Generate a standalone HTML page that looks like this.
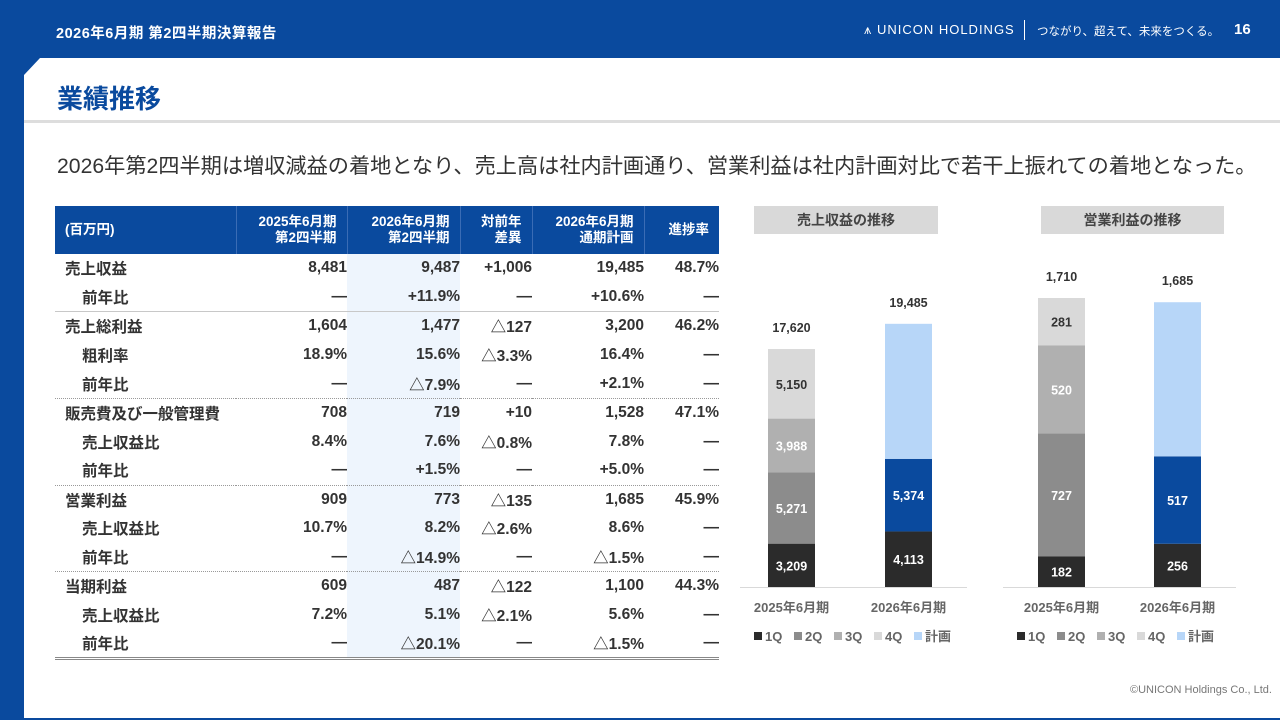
<!DOCTYPE html>
<html><head><meta charset="utf-8">
<style>
*{margin:0;padding:0;box-sizing:border-box}
body{width:1280px;height:720px;overflow:hidden;background:#0a4a9e;font-family:"Liberation Sans","Noto Sans CJK JP",sans-serif;position:relative}
.abs{position:absolute}
#panel{left:24px;top:58px;width:1256px;height:660px;background:#fff;clip-path:polygon(16px 0,100% 0,100% 100%,0 100%,0 17px)}
table{border-collapse:collapse;position:absolute;left:55px;top:206px;width:664px;font-weight:bold;font-size:15.5px;color:#333}
th{background:#0a4a9e;color:#fff;height:48px;font-size:13.5px;line-height:16px;text-align:right;padding-right:10px;border-left:1px solid #3a6cb5}
th:first-child{text-align:left;padding-left:10px;border-left:none}
td{height:28.9px;text-align:right;padding-right:0;white-space:nowrap}
td:first-child{text-align:left;padding-left:10px}
td.s{padding-left:27px!important}
td.h{background:#eef5fd}
tr.solid td{border-top:1px solid #c8c8c8}
tr.dot td{border-top:1px dotted #999}
tr.last td{border-bottom:3px double #888}
</style></head><body>
<div class="abs" style="left:56px;top:22px;color:#fff;font-size:14.5px;font-weight:bold;letter-spacing:0.5px">2026年6月期 第2四半期決算報告</div>
<div class="abs" style="left:864px;top:22px;color:#fff;font-size:13px;letter-spacing:1px">⩚ UNICON HOLDINGS</div>
<div class="abs" style="left:1024px;top:20px;width:1px;height:20px;background:#fff"></div>
<div class="abs" style="left:1037px;top:23px;color:#fff;font-size:11.5px">つながり、超えて、未来をつくる。</div>
<div class="abs" style="left:1234px;top:21px;color:#fff;font-size:15px;font-weight:bold">16</div>
<div class="abs" id="panel"></div>
<div class="abs" style="left:57px;top:79px;color:#0a4a9e;font-size:26px;font-weight:bold">業績推移</div>
<div class="abs" style="left:24px;top:120px;width:1256px;height:3px;background:#ddd"></div>
<div class="abs" style="left:57px;top:149px;color:#333;font-size:21.2px;white-space:nowrap">2026年第2四半期は増収減益の着地となり、売上高は社内計画通り、営業利益は社内計画対比で若干上振れての着地となった。</div>

<table>
<colgroup><col style="width:181px"><col style="width:111px"><col style="width:113px"><col style="width:72px"><col style="width:112px"><col style="width:75px"></colgroup>
<tr><th>(百万円)</th><th>2025年6月期<br>第2四半期</th><th>2026年6月期<br>第2四半期</th><th>対前年<br>差異</th><th>2026年6月期<br>通期計画</th><th>進捗率</th></tr>
<tr><td>売上収益</td><td>8,481</td><td class="h">9,487</td><td>+1,006</td><td>19,485</td><td>48.7%</td></tr>
<tr><td class="s">前年比</td><td>—</td><td class="h">+11.9%</td><td>—</td><td>+10.6%</td><td>—</td></tr>
<tr class="solid"><td>売上総利益</td><td>1,604</td><td class="h">1,477</td><td>△127</td><td>3,200</td><td>46.2%</td></tr>
<tr><td class="s">粗利率</td><td>18.9%</td><td class="h">15.6%</td><td>△3.3%</td><td>16.4%</td><td>—</td></tr>
<tr><td class="s">前年比</td><td>—</td><td class="h">△7.9%</td><td>—</td><td>+2.1%</td><td>—</td></tr>
<tr class="dot"><td>販売費及び一般管理費</td><td>708</td><td class="h">719</td><td>+10</td><td>1,528</td><td>47.1%</td></tr>
<tr><td class="s">売上収益比</td><td>8.4%</td><td class="h">7.6%</td><td>△0.8%</td><td>7.8%</td><td>—</td></tr>
<tr><td class="s">前年比</td><td>—</td><td class="h">+1.5%</td><td>—</td><td>+5.0%</td><td>—</td></tr>
<tr class="dot"><td>営業利益</td><td>909</td><td class="h">773</td><td>△135</td><td>1,685</td><td>45.9%</td></tr>
<tr><td class="s">売上収益比</td><td>10.7%</td><td class="h">8.2%</td><td>△2.6%</td><td>8.6%</td><td>—</td></tr>
<tr><td class="s">前年比</td><td>—</td><td class="h">△14.9%</td><td>—</td><td>△1.5%</td><td>—</td></tr>
<tr class="dot"><td>当期利益</td><td>609</td><td class="h">487</td><td>△122</td><td>1,100</td><td>44.3%</td></tr>
<tr><td class="s">売上収益比</td><td>7.2%</td><td class="h">5.1%</td><td>△2.1%</td><td>5.6%</td><td>—</td></tr>
<tr class="last"><td class="s">前年比</td><td>—</td><td class="h">△20.1%</td><td>—</td><td>△1.5%</td><td>—</td></tr>
</table>

<div class="abs" style="left:754px;top:206px;width:184px;height:28px;background:#d9d9d9;color:#444;font-size:14px;font-weight:bold;text-align:center;line-height:28px">売上収益の推移</div>
<div class="abs" style="left:1041px;top:206px;width:183px;height:28px;background:#d9d9d9;color:#444;font-size:14px;font-weight:bold;text-align:center;line-height:28px">営業利益の推移</div>

<svg class="abs" style="left:0;top:0" width="1280" height="720" id="charts"></svg>

<div class="abs" style="left:1130px;top:684px;color:#777;font-size:11px">©UNICON Holdings Co., Ltd.</div>

<script>
const categories=["2025年6月期","2026年6月期"];
const seriesNames=["1Q","2Q","3Q","4Q","計画"];
const seriesColors=["#2b2b2b","#8c8c8c","#b0b0b0","#d9d9d9","#b7d6f8"];
const revQ1=[3209,4113];
const revQ2=[5271,5374];
const revQ3=[3988,0];
const revQ4=[5150,0];
const revPlan=[0,9998];
const revTotals=["17,620","19,485"];
const opQ1=[182,256];
const opQ2=[727,517];
const opQ3=[520,0];
const opQ4=[281,0];
const opPlan=[0,912];
const opTotals=["1,710","1,685"];

const svg=document.getElementById('charts');
const NS='http://www.w3.org/2000/svg';
function mk(t,a){const e=document.createElementNS(NS,t);for(const k in a)e.setAttribute(k,a[k]);svg.appendChild(e);return e;}
function fmt(v){return v.toLocaleString('en-US');}

function drawChart(id,series,totals,axisX0,axisX1,barX,scale,base){
  const yScale=v=>v*scale;
  const ax=mk('line',{x1:axisX0,x2:axisX1,y1:base+0.5,y2:base+0.5,stroke:'#d9d9d9','stroke-width':1});
  
  
  categories.forEach((c,i)=>{
    let y=base;
    series.forEach((s,j)=>{
      const v=s[i];if(!v)return;
      const h=yScale(v);
      let col=seriesColors[j];
      if(i===1&&j===1)col='#0a4a9e';
      const r=mk('rect',{x:barX[i],y:y-h,width:47,height:h,fill:col});
      
      
      if(j<4){
        const t=mk('text',{x:barX[i]+23.5,y:y-h/2+5,'text-anchor':'middle','font-size':12.5,'font-weight':'bold',fill:(j===3?'#333':'#fff')});
        t.textContent=fmt(v);
        
        
      }
      y-=h;
    });
    const tt=mk('text',{x:barX[i]+23.5,y:y-17,'text-anchor':'middle','font-size':12.5,'font-weight':'bold',fill:'#333'});
    tt.textContent=totals[i];
    
    
    const cl=mk('text',{x:barX[i]+23.5,y:base+25,'text-anchor':'middle','font-size':13,'font-weight':'bold',fill:'#666'});
    cl.textContent=c;
    
    
  });
  let lx=axisX0+14;
  seriesNames.forEach((n,j)=>{
    const m=mk('rect',{x:lx,y:632,width:8,height:8,fill:seriesColors[j]});
    
    
    const t=mk('text',{x:lx+11,y:641,'font-size':13,'font-weight':'bold',fill:'#666'});
    t.textContent=n;
    
    
    lx+=40;
  });
}
drawChart('revenue',[revQ1,revQ2,revQ3,revQ4,revPlan],revTotals,740,967,[768,885],238/17620,587);
drawChart('profit',[opQ1,opQ2,opQ3,opQ4,opPlan],opTotals,1003,1236,[1038,1154],289/1710,587);
</script>
</body></html>
